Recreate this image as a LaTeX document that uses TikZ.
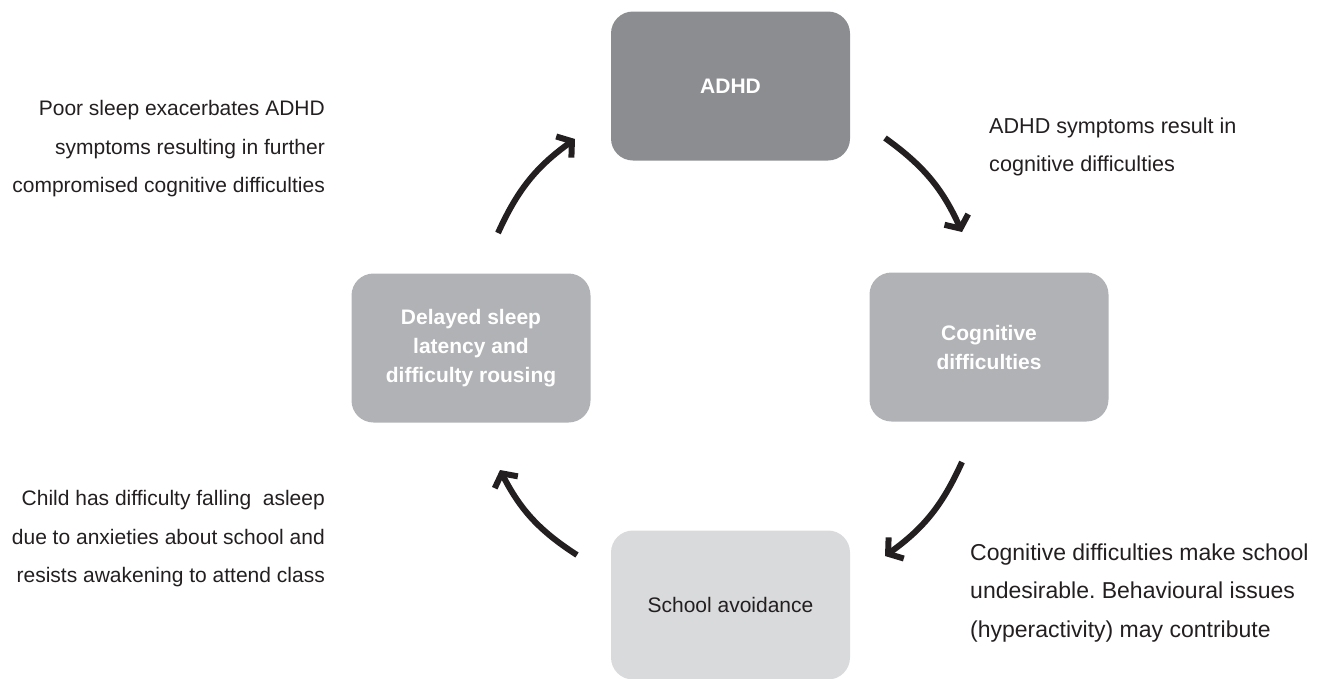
\documentclass[tikz,border=0pt]{standalone}
\usepackage{fontspec}
\setmainfont{Liberation Sans}
\usetikzlibrary{arrows.meta}
\definecolor{boxA}{HTML}{8C8D90}
\definecolor{boxB}{HTML}{B1B2B5}
\definecolor{boxC}{HTML}{D9DADC}
\definecolor{ink}{HTML}{231F20}
\frenchspacing
\begin{document}
\begin{tikzpicture}[x=1pt,y=-1pt,
  stagebox/.style={rounded corners=22pt, minimum width=239pt, minimum height=149pt, inner sep=0pt, align=center, font=\fontsize{21}{29}\selectfont\bfseries, text=white},
  note/.style={font=\fontsize{21}{38.5}\selectfont, text=ink, inner sep=0pt},
  cyc/.style={draw=ink, line width=6pt, -{Straight Barb[length=10pt,width=26pt]}, bend left=15}
]
\useasboundingbox (0,0) rectangle (1325,678);
\node[stagebox, fill=boxA] (adhd) at (730.5,86) {ADHD};
\node[stagebox, fill=boxB] (cog) at (989,347) {Cognitive\\difficulties};
\node[stagebox, fill=boxB] (sleep) at (471,348) {Delayed sleep\\latency and\\difficulty rousing};
\node[stagebox, fill=boxC, font=\fontsize{21}{29}\selectfont, text=ink] (school) at (730.5,605) {School avoidance};

\node[note, align=right, anchor=east] (n1) at (325,149) {Poor sleep exacerbates ADHD\\symptoms resulting in further\\compromised cognitive difficulties};
\node[note, align=left, anchor=west, font=\fontsize{21.6}{38.5}\selectfont] (n2) at (989,147) {ADHD symptoms result in\\cognitive difficulties};
\node[note, align=left, anchor=west, font=\fontsize{23}{38.5}\selectfont] (n3) at (970,593) {Cognitive difficulties make school\\undesirable. Behavioural issues\\(hyperactivity) may contribute};
\node[note, align=right, anchor=east] (n4) at (325,539) {Child has difficulty falling~ asleep\\due to anxieties about school and\\resists awakening to attend class};

\coordinate (trs) at (885,138);
\coordinate (tre) at (962,232);
\coordinate (brs) at (962,462);
\coordinate (bre) at (885,556);
\coordinate (bls) at (577,555);
\coordinate (ble) at (500,470);
\coordinate (tls) at (498,233);
\coordinate (tle) at (575,139);

\draw[cyc] (trs) to (tre);
\draw[cyc] (brs) to (bre);
\draw[cyc] (bls) to (ble);
\draw[cyc] (tls) to (tle);
\end{tikzpicture}
\end{document}
